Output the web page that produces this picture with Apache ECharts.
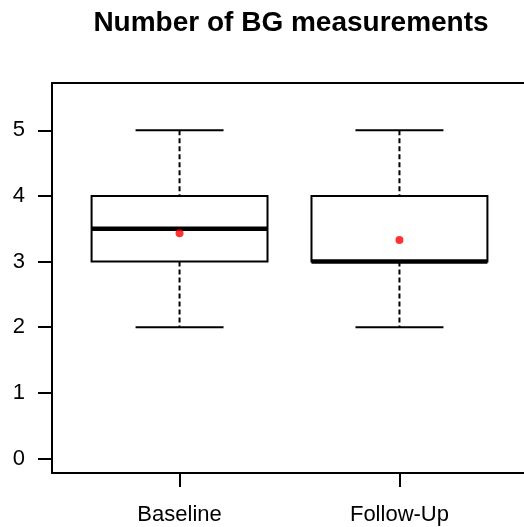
<!DOCTYPE html>
<html>
<head>
<meta charset="utf-8">
<title>Number of BG measurements</title>
<script src="https://cdn.jsdelivr.net/npm/echarts@6/dist/echarts.min.js"></script>
<style>
  html, body { margin: 0; padding: 0; background: #fff; overflow: hidden; }
  /* canvas runs a little past the right edge so the plot frame continues off-screen */
  #chart { width: 540px; height: 527px; }
</style>
</head>
<body>
<div id="chart"></div>
<script>
// Box-plot summaries per group
const categories = ['Baseline', 'Follow-Up'];
const whiskerLow = [2, 2];
const q1 = [3, 3];
const median = [3.5, 3];
const q3 = [4, 4];
const whiskerHigh = [5, 5];
const means = [3.43, 3.33];
const yTicks = [0, 1, 2, 3, 4, 5];

const BOX_WIDTH = 0.8;     // in x-axis units
const STAPLE_WIDTH = 0.4;  // whisker cap width, x-axis units
const FONT = "'Liberation Sans', Arial, Helvetica, sans-serif";
const X_MIN = 0.42, X_MAX = 2.58;
const Y_MIN = -0.22, Y_MAX = 5.72;

const boxData = categories.map((c, i) => [i + 1, whiskerLow[i], q1[i], median[i], q3[i], whiskerHigh[i]]);
const meanData = categories.map((c, i) => [i + 1, means[i]]);

function renderBox(params, api) {
  const x = api.value(0);
  const lo = api.coord([x, api.value(1)]);
  const b1 = api.coord([x, api.value(2)]);
  const md = api.coord([x, api.value(3)]);
  const b3 = api.coord([x, api.value(4)]);
  const hi = api.coord([x, api.value(5)]);
  const half = api.size([BOX_WIDTH, 0])[0] / 2;
  const cap = api.size([STAPLE_WIDTH, 0])[0] / 2;
  const cx = lo[0];
  const solid = { stroke: '#000', lineWidth: 2, fill: null };
  const dashed = { stroke: '#000', lineWidth: 2, lineDash: [5, 3], fill: null };
  return {
    type: 'group',
    children: [
      { type: 'line', shape: { x1: cx, y1: hi[1], x2: cx, y2: b3[1] }, style: dashed },
      { type: 'line', shape: { x1: cx, y1: b1[1], x2: cx, y2: lo[1] }, style: dashed },
      { type: 'line', shape: { x1: cx - cap, y1: hi[1], x2: cx + cap, y2: hi[1] }, style: solid },
      { type: 'line', shape: { x1: cx - cap, y1: lo[1], x2: cx + cap, y2: lo[1] }, style: solid },
      { type: 'rect', shape: { x: cx - half, y: b3[1], width: 2 * half, height: b1[1] - b3[1] },
        style: { stroke: '#000', lineWidth: 2, fill: '#fff' } },
      { type: 'line', shape: { x1: cx - half, y1: md[1], x2: cx + half, y2: md[1] },
        style: { stroke: '#000', lineWidth: 4.5 } }
    ]
  };
}

const frameLine = { show: true, onZero: false, lineStyle: { color: '#000', width: 2 } };

const chart = echarts.init(document.getElementById('chart'), null, { renderer: 'canvas' });
chart.setOption({
  animation: false,
  backgroundColor: '#fff',
  graphic: [{
    type: 'text',
    x: 291, y: 23,
    style: {
      text: 'Number of BG measurements',
      font: "bold 28px " + FONT,
      fill: '#000',
      textAlign: 'center',
      textVerticalAlign: 'middle'
    }
  }],
  grid: {
    left: 52, top: 83, width: 475, bottom: 54,
    show: false,
    containLabel: false
  },
  xAxis: [
    {
      type: 'value', position: 'bottom', min: X_MIN, max: X_MAX,
      axisLine: frameLine,
      splitLine: { show: false },
      axisTick: { show: true, customValues: [1, 2], length: 14, lineStyle: { color: '#000', width: 2 } },
      axisLabel: {
        show: true, customValues: [1, 2], margin: 31,
        formatter: v => categories[Math.round(v) - 1],
        color: '#000', fontSize: 22, fontFamily: FONT
      }
    },
    {
      // top edge of the plot frame
      type: 'value', position: 'top', min: X_MIN, max: X_MAX,
      axisLine: frameLine,
      axisTick: { show: false }, axisLabel: { show: false }, splitLine: { show: false }
    }
  ],
  yAxis: {
    type: 'value', position: 'left', min: Y_MIN, max: Y_MAX,
    axisLine: frameLine,
    splitLine: { show: false },
    axisTick: { show: true, customValues: yTicks, length: 14, lineStyle: { color: '#000', width: 2 } },
    axisLabel: {
      show: true, customValues: yTicks, margin: 27,
      color: '#000', fontSize: 22, fontFamily: FONT
    }
  },
  series: [
    {
      type: 'custom',
      renderItem: renderBox,
      data: boxData,
      xAxisIndex: 0,
      encode: { x: 0, y: [1, 2, 3, 4, 5] },
      z: 2
    },
    {
      type: 'scatter',
      data: meanData,
      xAxisIndex: 0,
      symbol: 'circle',
      symbolSize: 8,
      itemStyle: { color: '#ff0000' },
      z: 3
    }
  ]
});
</script>
</body>
</html>
